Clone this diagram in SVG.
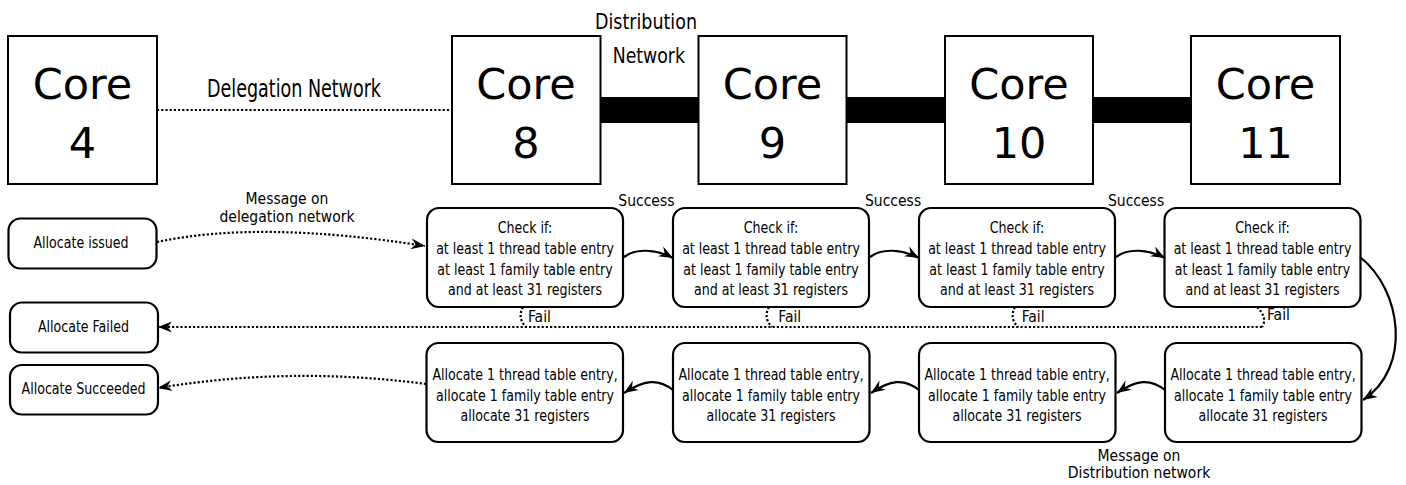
<svg xmlns="http://www.w3.org/2000/svg" width="1406" height="485" viewBox="0 0 1406 485">
  <style>
    .core { fill: #fff; stroke: #000; stroke-width: 2; }
    .core-t { font-family: "DejaVu Sans", sans-serif; font-size: 43px; text-anchor: middle; fill: #000; }
    .box { fill: #fff; stroke: #000; stroke-width: 2.2; }
    .bt { font-family: "DejaVu Sans Condensed", "DejaVu Sans", sans-serif; font-size: 16.5px; text-anchor: middle; fill: #000; }
    .lbl { font-family: "DejaVu Sans Condensed", "DejaVu Sans", sans-serif; font-size: 15.5px; fill: #000; }
    .big { font-family: "DejaVu Sans Condensed", "DejaVu Sans", sans-serif; fill: #000; }
    .dot { fill: none; stroke: #000; stroke-width: 2.2; stroke-dasharray: 2.2 2; }
    .solid { fill: none; stroke: #000; stroke-width: 2.2; }
    .bus { fill: #000; }
  </style>
  <defs>
    <marker id="head" markerUnits="userSpaceOnUse" markerWidth="18" markerHeight="14" refX="14" refY="5.5" orient="auto" overflow="visible">
      <path d="M0,0 L14,5.5 L0,11 L4.5,5.5 Z" fill="#000" stroke="none"/>
    </marker>
  </defs>

  <rect width="1406" height="485" fill="#fff"/>

  <!-- network links between cores -->
  <g id="networks">
    <line class="dot" x1="157" y1="110" x2="452" y2="110"/>
    <rect class="bus" x="600" y="97" width="99" height="26"/>
    <rect class="bus" x="846" y="97" width="99" height="26"/>
    <rect class="bus" x="1093" y="97" width="98" height="26"/>
    <text class="big" x="207" y="96.5" font-size="24" textLength="174" lengthAdjust="spacingAndGlyphs">Delegation Network</text>
    <text class="big" x="595" y="29.3" font-size="22" textLength="102" lengthAdjust="spacingAndGlyphs">Distribution</text>
    <text class="big" x="612.7" y="63.3" font-size="22" textLength="72.3" lengthAdjust="spacingAndGlyphs">Network</text>
  </g>

  <!-- cores -->
  <g id="core4">
    <rect class="core" x="8" y="36" width="149" height="148"/>
    <text class="core-t" x="82.5" y="99">Core</text>
    <text class="core-t" x="82.5" y="158">4</text>
  </g>
  <g id="core8">
    <rect class="core" x="452" y="36" width="148.5" height="148"/>
    <text class="core-t" x="526" y="99">Core</text>
    <text class="core-t" x="526" y="158">8</text>
  </g>
  <g id="core9">
    <rect class="core" x="698.5" y="36" width="148" height="148"/>
    <text class="core-t" x="772.5" y="99">Core</text>
    <text class="core-t" x="772.5" y="158">9</text>
  </g>
  <g id="core10">
    <rect class="core" x="945" y="36" width="148" height="148"/>
    <text class="core-t" x="1019" y="99">Core</text>
    <text class="core-t" x="1019" y="158">10</text>
  </g>
  <g id="core11">
    <rect class="core" x="1191" y="36" width="149" height="148"/>
    <text class="core-t" x="1265.5" y="99">Core</text>
    <text class="core-t" x="1265.5" y="158">11</text>
  </g>

  <!-- request / result states -->
  <g id="allocate-issued">
    <rect class="box" x="8.5" y="218.5" width="148" height="50" rx="12"/>
    <text class="bt" transform="translate(81,248.3) scale(0.85,1)">Allocate issued</text>
  </g>
  <g id="allocate-failed">
    <rect class="box" x="10" y="302.5" width="148" height="50" rx="12"/>
    <text class="bt" transform="translate(83.5,331.7) scale(0.85,1)">Allocate Failed</text>
  </g>
  <g id="allocate-succeeded">
    <rect class="box" x="10" y="365" width="148" height="49.5" rx="12"/>
    <text class="bt" transform="translate(83.5,394) scale(0.85,1)">Allocate Succeeded</text>
  </g>

  <!-- check steps -->
  <g id="check8">
    <rect class="box" x="427" y="208" width="196" height="99" rx="12"/>
    <text class="bt" transform="translate(525,0) scale(0.85,1)"><tspan x="0" y="233.3">Check if:</tspan><tspan x="0" y="254">at least 1 thread table entry</tspan><tspan x="0" y="274.7">at least 1 family table entry</tspan><tspan x="0" y="295.3">and at least 31 registers</tspan></text>
  </g>
  <g id="check9">
    <rect class="box" x="673" y="208" width="196" height="99" rx="12"/>
    <text class="bt" transform="translate(771,0) scale(0.85,1)"><tspan x="0" y="233.3">Check if:</tspan><tspan x="0" y="254">at least 1 thread table entry</tspan><tspan x="0" y="274.7">at least 1 family table entry</tspan><tspan x="0" y="295.3">and at least 31 registers</tspan></text>
  </g>
  <g id="check10">
    <rect class="box" x="919" y="208" width="196" height="99" rx="12"/>
    <text class="bt" transform="translate(1017,0) scale(0.85,1)"><tspan x="0" y="233.3">Check if:</tspan><tspan x="0" y="254">at least 1 thread table entry</tspan><tspan x="0" y="274.7">at least 1 family table entry</tspan><tspan x="0" y="295.3">and at least 31 registers</tspan></text>
  </g>
  <g id="check11">
    <rect class="box" x="1164.5" y="208" width="196" height="99" rx="12"/>
    <text class="bt" transform="translate(1262.5,0) scale(0.85,1)"><tspan x="0" y="233.3">Check if:</tspan><tspan x="0" y="254">at least 1 thread table entry</tspan><tspan x="0" y="274.7">at least 1 family table entry</tspan><tspan x="0" y="295.3">and at least 31 registers</tspan></text>
  </g>

  <!-- allocation steps -->
  <g id="alloc8">
    <rect class="box" x="426.5" y="343" width="196.5" height="99" rx="12"/>
    <text class="bt" transform="translate(525,0) scale(0.85,1)"><tspan x="0" y="380">Allocate 1 thread table entry,</tspan><tspan x="0" y="400.7">allocate 1 family table entry</tspan><tspan x="0" y="421.4">allocate 31 registers</tspan></text>
  </g>
  <g id="alloc9">
    <rect class="box" x="673" y="343" width="196.5" height="99" rx="12"/>
    <text class="bt" transform="translate(771,0) scale(0.85,1)"><tspan x="0" y="380">Allocate 1 thread table entry,</tspan><tspan x="0" y="400.7">allocate 1 family table entry</tspan><tspan x="0" y="421.4">allocate 31 registers</tspan></text>
  </g>
  <g id="alloc10">
    <rect class="box" x="919" y="343" width="196.5" height="99" rx="12"/>
    <text class="bt" transform="translate(1017,0) scale(0.85,1)"><tspan x="0" y="380">Allocate 1 thread table entry,</tspan><tspan x="0" y="400.7">allocate 1 family table entry</tspan><tspan x="0" y="421.4">allocate 31 registers</tspan></text>
  </g>
  <g id="alloc11">
    <rect class="box" x="1165" y="343" width="196.5" height="99" rx="12"/>
    <text class="bt" transform="translate(1263,0) scale(0.85,1)"><tspan x="0" y="380">Allocate 1 thread table entry,</tspan><tspan x="0" y="400.7">allocate 1 family table entry</tspan><tspan x="0" y="421.4">allocate 31 registers</tspan></text>
  </g>

  <!-- connectors -->
  <g id="connectors">
    <!-- request over the delegation network -->
    <path class="dot" d="M157,242 Q260,220 425,246" marker-end="url(#head)"/>
    <!-- success hand-offs along the ring -->
    <path class="solid" d="M624,257 C636,248 656,249 673,258" marker-end="url(#head)"/>
    <path class="solid" d="M870,257 C882,248 902,249 919,258" marker-end="url(#head)"/>
    <path class="solid" d="M1116,257 C1128,248 1148,249 1165,258" marker-end="url(#head)"/>
    <path class="solid" d="M1360,257 C1402,290 1412,368 1363,400" marker-end="url(#head)"/>
    <!-- allocation walks back -->
    <path class="solid" d="M1165,390 C1150,378 1136,380 1117,393" marker-end="url(#head)"/>
    <path class="solid" d="M919,390 C904,378 890,380 871,393" marker-end="url(#head)"/>
    <path class="solid" d="M673,390 C658,378 644,380 624,393" marker-end="url(#head)"/>
    <path class="dot" d="M426,384 Q290,366 158,388" marker-end="url(#head)"/>
    <!-- failure path -->
    <path class="dot" d="M523,307 Q517,318 526,327"/>
    <path class="dot" d="M769,307 Q763,318 772,327"/>
    <path class="dot" d="M1015,307 Q1009,318 1018,327"/>
    <path class="dot" d="M1257,307 Q1268,318 1262,327"/>
    <path class="dot" d="M1262,327 L158,327" marker-end="url(#head)"/>
  </g>

  <!-- connector labels -->
  <g id="labels">
    <text class="lbl" x="287" y="204" text-anchor="middle">Message on</text>
    <text class="lbl" x="287" y="221.7" text-anchor="middle">delegation network</text>
    <text class="lbl" x="618.3" y="205.7">Success</text>
    <text class="lbl" x="865" y="205.7">Success</text>
    <text class="lbl" x="1108" y="205.7">Success</text>
    <text class="lbl" x="528" y="322">Fail</text>
    <text class="lbl" x="778.3" y="322">Fail</text>
    <text class="lbl" x="1021.7" y="322">Fail</text>
    <text class="lbl" x="1267" y="320">Fail</text>
    <text class="lbl" x="1139" y="460.7" text-anchor="middle">Message on</text>
    <text class="lbl" x="1139" y="478.3" text-anchor="middle">Distribution network</text>
  </g>
</svg>
